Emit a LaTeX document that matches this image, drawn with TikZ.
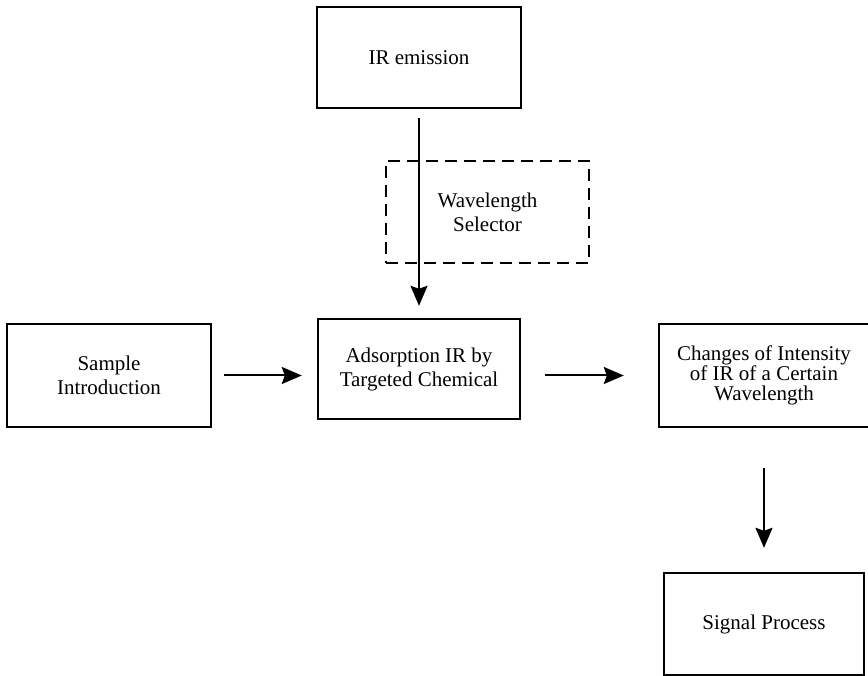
\documentclass[tikz,border=0pt]{standalone}
\usepackage{fontspec}
\setmainfont{Liberation Serif}
\usetikzlibrary{arrows.meta}
\begin{document}
\begin{tikzpicture}[x=1pt,y=-1pt,
  box/.style={draw, line width=2.4pt, rectangle, align=center, inner sep=0pt,
    font=\fontsize{21}{24}\selectfont},
  dbox/.style={box, line width=2.2pt, dash pattern=on 12pt off 7pt},
  arr/.style={line width=2pt, -{Stealth[length=20pt,width=17pt,inset=3pt]}}]
\useasboundingbox (0,0) rectangle (868,676);
\node[box, minimum width=204, minimum height=101] (ir) at (419,57.5) {IR emission};
\node[dbox, minimum width=203, minimum height=102] (sel) at (487.5,212) {Wavelength\\Selector};
\node[box, minimum width=204, minimum height=103] (sample) at (109,375.5) {Sample\\Introduction};
\node[box, minimum width=202, minimum height=100] (ads) at (419,369) {Adsorption IR by\\Targeted Chemical};
\node[box, minimum width=210, minimum height=103, font=\fontsize{21}{20}\selectfont] (chg) at (764,375.5) {Changes of Intensity\\of IR of a Certain\\Wavelength};
\node[box, minimum width=200, minimum height=102] (sig) at (764,624) {Signal Process};
\draw[arr] ([yshift=-9]ir.south) -- ([yshift=12]ads.north);
\draw[arr] ([xshift=12]sample.east) -- ([xshift=-15]ads.west |- sample.east);
\draw[arr] ([xshift=24]ads.east |- chg.west) -- ([xshift=-34]chg.west);
\draw[arr] ([yshift=-40]chg.south) -- ([yshift=24]sig.north);
\end{tikzpicture}
\end{document}
